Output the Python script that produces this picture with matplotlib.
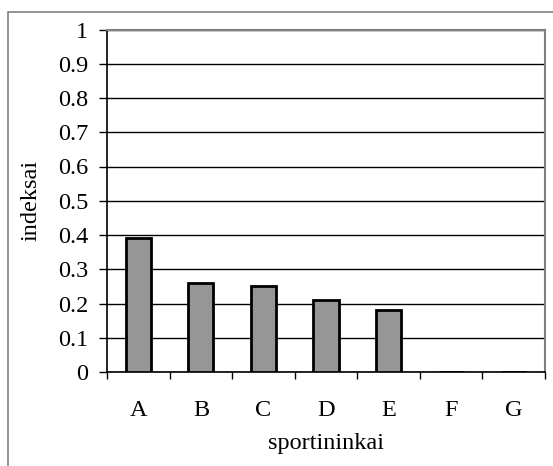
import matplotlib.pyplot as plt
import numpy as np
from matplotlib.patches import Rectangle

plt.rcParams["font.family"] = ["Liberation Serif", "DejaVu Serif"]

categories = ["A", "B", "C", "D", "E", "F", "G"]
values = [0.39, 0.26, 0.25, 0.21, 0.18, 0.0, 0.0]
y_ticks = [0, 0.1, 0.2, 0.3, 0.4, 0.5, 0.6, 0.7, 0.8, 0.9, 1]
y_tick_labels = ["0", "0.1", "0.2", "0.3", "0.4", "0.5", "0.6", "0.7", "0.8", "0.9", "1"]

W, H = 553, 466
FS = 17.5
fig = plt.figure(figsize=(W / 100, H / 100), dpi=100)

# outer chart frame, runs off the right and bottom edges
fig.patches.append(Rectangle((8 / W, -0.2), 1.2, 1.2 - 12 / H, transform=fig.transFigure,
                             fill=False, edgecolor="#808080", linewidth=1.2))

ax = fig.add_axes([107 / W, 94 / H, 438 / W, 342.5 / H])
x = np.arange(len(categories))
ax.bar(x, values, width=0.4, color="#969696", edgecolor="black", linewidth=2, zorder=3)

ax.set_xlim(-0.5, len(categories) - 0.5)
ax.set_ylim(0, 1)
ax.set_yticks(y_ticks)
ax.set_yticklabels(y_tick_labels, fontsize=FS)
ax.yaxis.grid(True, color="black", linewidth=1)
ax.set_axisbelow(True)

# category labels centered, tick marks between categories
ax.set_xticks(x)
ax.set_xticklabels(categories, fontsize=FS)
ax.tick_params(axis="x", length=0, pad=20)
ax.set_xticks(np.arange(-0.5, len(categories)), minor=True)
ax.tick_params(axis="x", which="minor", length=5, width=1, direction="out")
ax.tick_params(axis="y", length=5.5, width=1, direction="out", pad=8)

ax.spines["left"].set_color("black")
ax.spines["bottom"].set_color("black")
ax.spines["left"].set_linewidth(1.2)
ax.spines["bottom"].set_linewidth(1.2)
ax.spines["top"].set_color("#808080")
ax.spines["right"].set_color("#808080")
ax.spines["top"].set_linewidth(1.5)
ax.spines["right"].set_linewidth(1.5)

ax.set_xlabel("sportininkai", fontsize=FS, labelpad=9)
ax.set_ylabel("indeksai", fontsize=FS, labelpad=12)

fig.savefig("out.png", dpi=100)
